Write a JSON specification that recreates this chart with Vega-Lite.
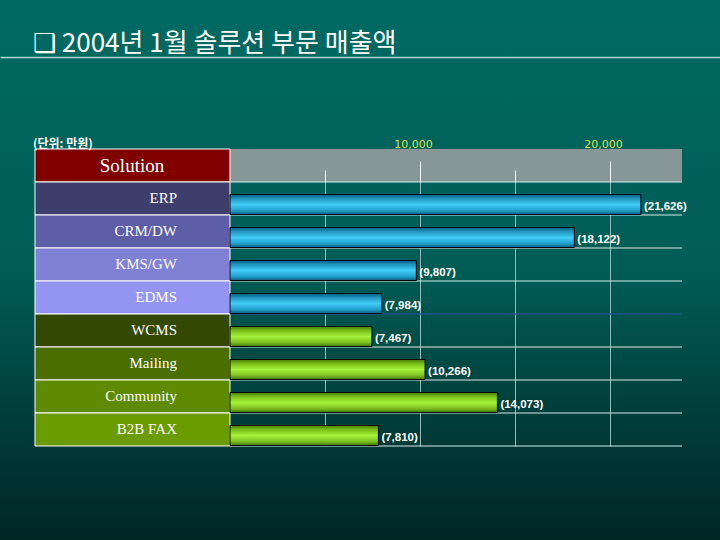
{
  "$schema": "https://vega.github.io/schema/vega-lite/v6.json",
  "width": 720,
  "height": 540,
  "autosize": "none",
  "padding": 0,
  "background": "#004a46",
  "config": {
    "view": {
      "stroke": null,
      "fill": {"gradient": "linear", "x1": 0, "y1": 0, "x2": 0, "y2": 1,
        "stops": [
          {"offset": 0, "color": "#006a62"},
          {"offset": 0.5, "color": "#005d56"},
          {"offset": 0.75, "color": "#00403c"},
          {"offset": 1, "color": "#002626"}
        ]}
    }
  },
  "title": {
    "text": "❑ 2004년 1월 솔루션 부문 매출액",
    "subtitle": "(단위: 만원)",
    "orient": "top",
    "anchor": "start",
    "frame": "group",
    "offset": -150,
    "dx": 33,
    "font": "Noto Sans CJK KR",
    "fontSize": 26,
    "fontWeight": "normal",
    "color": "#ffffff",
    "subtitleFont": "Noto Sans CJK KR",
    "subtitleFontSize": 12,
    "subtitleFontWeight": "bold",
    "subtitleColor": "#ffffff",
    "subtitlePadding": 82
  },
  "datasets": {
    "rows": [
      {"item": "ERP", "value": 21626, "group": "blue", "label": "(21,626)"},
      {"item": "CRM/DW", "value": 18122, "group": "blue", "label": "(18,122)"},
      {"item": "KMS/GW", "value": 9807, "group": "blue", "label": "(9,807)"},
      {"item": "EDMS", "value": 7984, "group": "blue", "label": "(7,984)"},
      {"item": "WCMS", "value": 7467, "group": "green", "label": "(7,467)"},
      {"item": "Mailing", "value": 10266, "group": "green", "label": "(10,266)"},
      {"item": "Community", "value": 14073, "group": "green", "label": "(14,073)"},
      {"item": "B2B FAX", "value": 7810, "group": "green", "label": "(7,810)"}
    ],
    "header": [{"item": "Solution"}],
    "last": [{"item": "B2B FAX"}]
  },
  "layer": [
    {
      "data": {"name": "header"},
      "mark": {"type": "rect", "fill": "#879797"},
      "encoding": {
        "x": {"datum": 0, "type": "quantitative",
          "scale": {"domain": [-12105, 25789], "nice": false, "zero": false},
          "axis": {"orient": "top", "offset": -57, "domain": true, "domainColor": "#a8d8d4", "domainWidth": 1.5,
            "ticks": false, "labels": false, "grid": false, "title": null}},
        "x2": {"datum": 23789},
        "y": {"field": "item", "type": "nominal",
          "scale": {"domain": ["Solution", "ERP", "CRM/DW", "KMS/GW", "EDMS", "WCMS", "Mailing", "Community", "B2B FAX"], "range": [149, 446], "paddingInner": 0, "paddingOuter": 0},
          "axis": null}
      }
    },
    {
      "data": {"name": "header"},
      "mark": {"type": "rect", "fill": "#800000", "stroke": "#ffffff", "strokeWidth": 1},
      "encoding": {
        "x": {"datum": -10263, "type": "quantitative", "scale": {"domain": [-12105, 25789], "nice": false, "zero": false}, "axis": null},
        "x2": {"datum": 0},
        "y": {"field": "item", "type": "nominal", "axis": null}
      }
    },
    {
      "data": {"name": "rows"},
      "mark": {"type": "rect", "stroke": "#ffffff", "strokeWidth": 1},
      "encoding": {
        "x": {"datum": -10263, "type": "quantitative", "scale": {"domain": [-12105, 25789], "nice": false, "zero": false},
          "axis": {"orient": "top", "offset": 0, "values": [5000, 10000, 15000, 20000], "grid": true, "gridColor": "#8cbcbc", "gridWidth": 1,
            "labels": false, "ticks": false, "domain": false, "title": null, "zindex": 0}},
        "x2": {"datum": 0},
        "y": {"field": "item", "type": "nominal", "axis": null},
        "color": {"field": "item", "type": "nominal", "legend": null,
          "scale": {"domain": ["ERP", "CRM/DW", "KMS/GW", "EDMS", "WCMS", "Mailing", "Community", "B2B FAX"],
            "range": ["#3e3e6c", "#5e5ea6", "#8080d4", "#9494f4", "#334800", "#4a6e00", "#5e8a00", "#6a9c00"]}}
      }
    },
    {
      "data": {"name": "rows"},
      "mark": {"type": "rule", "strokeWidth": 1},
      "encoding": {
        "x": {"datum": 0, "type": "quantitative", "scale": {"domain": [-12105, 25789], "nice": false, "zero": false}, "axis": null},
        "x2": {"datum": 23789},
        "y": {"field": "item", "type": "nominal", "bandPosition": 0, "axis": null},
        "color": {"condition": {"test": "datum.item === 'WCMS'", "value": "#2c4cb0"}, "value": "#d0ecec"}
      }
    },
    {
      "data": {"name": "last"},
      "mark": {"type": "rule", "strokeWidth": 1, "color": "#d0ecec"},
      "encoding": {
        "x": {"datum": 0, "type": "quantitative", "scale": {"domain": [-12105, 25789], "nice": false, "zero": false}, "axis": null},
        "x2": {"datum": 23789},
        "y": {"field": "item", "type": "nominal", "bandPosition": 1, "axis": null}
      }
    },
    {
      "data": {"name": "rows"},
      "transform": [{"filter": "datum.group === 'blue'"}],
      "mark": {"type": "bar", "size": 20, "yOffset": 6, "stroke": "#000000", "strokeWidth": 1,
        "fill": {"gradient": "linear", "x1": 0, "y1": 0, "x2": 0, "y2": 1,
          "stops": [
            {"offset": 0, "color": "#0b5a78"},
            {"offset": 0.2, "color": "#1f95c0"},
            {"offset": 0.5, "color": "#40cdf6"},
            {"offset": 0.8, "color": "#22a0cc"},
            {"offset": 1, "color": "#0c5f80"}
          ]}},
      "encoding": {
        "x": {"field": "value", "type": "quantitative", "scale": {"domain": [-12105, 25789], "nice": false, "zero": false},
          "axis": {"orient": "top", "offset": -182, "values": [10000, 20000], "tickSize": 21, "tickColor": "#f0f8f8", "tickWidth": 1,
            "labelPadding": 12, "labelExpr": "format(datum.value, ',.0f')", "labelColor": "#d4e050", "labelFont": "DejaVu Sans", "labelFontSize": 11,
            "labelAngle": 0, "labelOffset": -7, "domain": false, "grid": false, "title": null, "zindex": 1}},
        "x2": {"datum": 0},
        "y": {"field": "item", "type": "nominal", "axis": null}
      }
    },
    {
      "data": {"name": "rows"},
      "transform": [{"filter": "datum.group === 'green'"}],
      "mark": {"type": "bar", "size": 20, "yOffset": 6, "stroke": "#000000", "strokeWidth": 1,
        "fill": {"gradient": "linear", "x1": 0, "y1": 0, "x2": 0, "y2": 1,
          "stops": [
            {"offset": 0, "color": "#4a7c08"},
            {"offset": 0.2, "color": "#78bc18"},
            {"offset": 0.5, "color": "#a6f23a"},
            {"offset": 0.8, "color": "#7cc020"},
            {"offset": 1, "color": "#457208"}
          ]}},
      "encoding": {
        "x": {"field": "value", "type": "quantitative", "scale": {"domain": [-12105, 25789], "nice": false, "zero": false},
          "axis": {"orient": "top", "offset": -182, "values": [5000, 15000], "tickSize": 12, "tickColor": "#f0f8f8", "tickWidth": 1,
            "labels": false, "domain": false, "grid": false, "title": null, "zindex": 1}},
        "x2": {"datum": 0},
        "y": {"field": "item", "type": "nominal", "axis": null}
      }
    },
    {
      "data": {"name": "rows"},
      "mark": {"type": "text", "align": "left", "baseline": "middle", "dx": 3, "dy": 8, "font": "Liberation Sans", "fontSize": 11.5, "fontWeight": "bold", "color": "#ffffff"},
      "encoding": {
        "x": {"field": "value", "type": "quantitative", "scale": {"domain": [-12105, 25789], "nice": false, "zero": false}, "axis": null},
        "y": {"field": "item", "type": "nominal", "axis": null},
        "text": {"field": "label"}
      }
    },
    {
      "data": {"name": "rows"},
      "mark": {"type": "text", "align": "right", "baseline": "middle", "dy": -1, "font": "Liberation Serif", "fontSize": 15, "color": "#ffffff"},
      "encoding": {
        "x": {"datum": -2789, "type": "quantitative", "scale": {"domain": [-12105, 25789], "nice": false, "zero": false}, "axis": null},
        "y": {"field": "item", "type": "nominal", "axis": null},
        "text": {"field": "item"}
      }
    },
    {
      "data": {"name": "header"},
      "mark": {"type": "text", "align": "center", "baseline": "middle", "dy": 0, "font": "Liberation Serif", "fontSize": 19, "color": "#ffffff"},
      "encoding": {
        "x": {"datum": -5158, "type": "quantitative", "scale": {"domain": [-12105, 25789], "nice": false, "zero": false}, "axis": null},
        "y": {"field": "item", "type": "nominal", "axis": null},
        "text": {"field": "item"}
      }
    }
  ],
  "resolve": {"axis": {"x": "independent"}}
}
